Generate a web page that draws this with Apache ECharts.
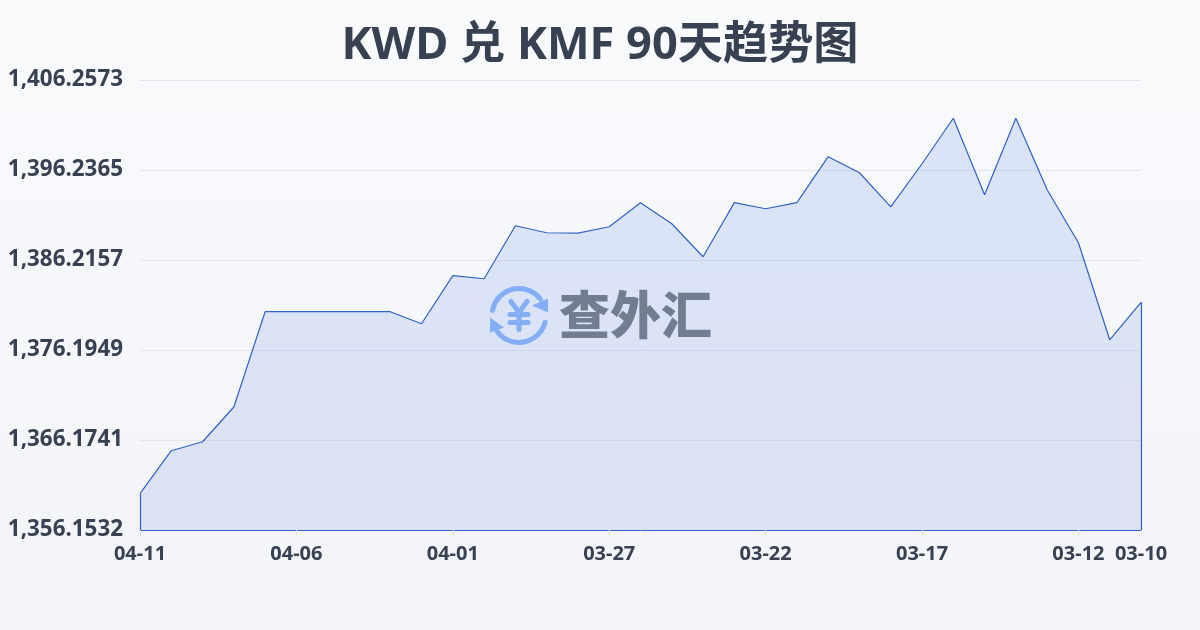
<!DOCTYPE html>
<html><head><meta charset="utf-8">
<style>html,body{margin:0;padding:0;width:1200px;height:630px;overflow:hidden}#c{width:1200px;height:630px}</style>
<script src="https://cdn.jsdelivr.net/npm/echarts@6/dist/echarts.min.js"></script>
</head><body><div id="c"></div>
<script>
const titleText = 'KWD 兑 KMF 90天趋势图';
const categories = ['04-11','04-10','04-09','04-08','04-07','04-06','04-05','04-04','04-03','04-02','04-01','03-31','03-30','03-29','03-28','03-27','03-26','03-25','03-24','03-23','03-22','03-21','03-20','03-19','03-18','03-17','03-16','03-15','03-14','03-13','03-12','03-11','03-10'];
const rates = [1360.20,1364.98,1365.98,1369.85,1380.46,1380.46,1380.46,1380.46,1380.46,1379.12,1384.47,1384.13,1390.03,1389.25,1389.20,1389.92,1392.60,1390.25,1386.58,1392.60,1391.92,1392.60,1397.72,1395.93,1392.14,1396.93,1402.00,1393.48,1402.00,1394.03,1388.13,1377.33,1381.50];
const axisMin = 1356.1532;
const axisMax = 1406.2573;
const axisStep = 10.02082;
const yTickLabels = ['1,356.1532','1,366.1741','1,376.1949','1,386.2157','1,396.2365','1,406.2573'];
const shownLabels = ['04-11','04-06','04-01','03-27','03-22','03-17','03-12','03-10'];
const lineColor = '#2f62c4';
const textColor = '#374151';
const fontFamily = '"Noto Sans","Noto Sans CJK SC",sans-serif';

const chart = echarts.init(document.getElementById('c'), null, {renderer:'canvas'});
const iconBlue = '#8fb8f8';
const show = (i) => shownLabels.includes(categories[i]);
const strokeYen = {fill:'none',stroke:iconBlue,lineWidth:5,lineCap:'round',lineJoin:'round'};
chart.setOption({
  animation:false,
  backgroundColor:{type:'linear',x:0,y:0,x2:0,y2:1,colorStops:[{offset:0,color:'#f9fafc'},{offset:1,color:'#f3f4f7'}]},
  title:{text:titleText,left:'center',top:19,textStyle:{fontFamily,fontSize:45.2,fontWeight:700,color:textColor}},
  grid:{left:140,right:59,top:80,bottom:100},
  xAxis:{type:'category',data:categories,boundaryGap:false,
    axisLine:{show:true,lineStyle:{color:lineColor,width:1}},
    axisTick:{show:true,length:6,alignWithLabel:true,interval:(i)=>show(i),lineStyle:{color:'#dfe3ea'}},
    axisLabel:{interval:(i)=>show(i),hideOverlap:false,margin:14,fontFamily,fontSize:20,fontWeight:700,color:textColor},
    splitLine:{show:false}},
  yAxis:{type:'value',min:axisMin,max:axisMax,interval:axisStep,
    axisLine:{show:false},axisTick:{show:false},
    axisLabel:{margin:17,fontFamily,fontSize:22.4,fontWeight:700,color:textColor,
      formatter:(v)=>yTickLabels[Math.round((v-axisMin)/axisStep)]},
    splitLine:{show:true,lineStyle:{color:'#e3e6ec',width:1}}},
  series:[{type:'line',data:rates,symbol:'none',smooth:false,
    lineStyle:{color:lineColor,width:1.2},
    areaStyle:{origin:'start',color:{type:'linear',x:0,y:0,x2:0,y2:1,colorStops:[{offset:0,color:'rgba(70,125,230,0.24)'},{offset:1,color:'rgba(60,100,215,0.19)'}]}},
    markLine:{silent:true,symbol:'none',label:{show:false},lineStyle:{color:lineColor,width:1.2,type:'solid'},
      data:[
        [{xAxis:categories[0],yAxis:axisMin},{xAxis:categories[0],yAxis:rates[0]}],
        [{xAxis:categories[32],yAxis:axisMin},{xAxis:categories[32],yAxis:rates[32]}]
      ]}
  }],
  graphic:[
    {type:'group',left:490,top:286,z:50,silent:true,children:[
      {type:'arc',shape:{cx:30,cy:29,r:27,startAngle:-2.95,endAngle:-0.65},style:{fill:'none',stroke:iconBlue,lineWidth:5,lineCap:'round'}},
      {type:'arc',shape:{cx:30,cy:29,r:27,startAngle:0.25,endAngle:2.55},style:{fill:'none',stroke:iconBlue,lineWidth:5,lineCap:'round'}},
      {type:'polygon',shape:{points:[[59,12],[59,26],[43,19]]},style:{fill:iconBlue}},
      {type:'polygon',shape:{points:[[1,31],[1,46],[15,41]]},style:{fill:iconBlue}},
      {type:'polyline',shape:{points:[[22,15],[30,26],[38,15]]},style:strokeYen},
      {type:'line',shape:{x1:30,y1:26,x2:30,y2:43},style:strokeYen},
      {type:'line',shape:{x1:21,y1:28,x2:39,y2:28},style:strokeYen},
      {type:'line',shape:{x1:21,y1:36,x2:39,y2:36},style:strokeYen}
    ]},
    {type:'text',left:559,top:289,z:50,silent:true,style:{text:'查外汇',font:'900 51px "Noto Sans CJK SC"',fill:'#737d90'}}
  ]
});
</script></body></html>
